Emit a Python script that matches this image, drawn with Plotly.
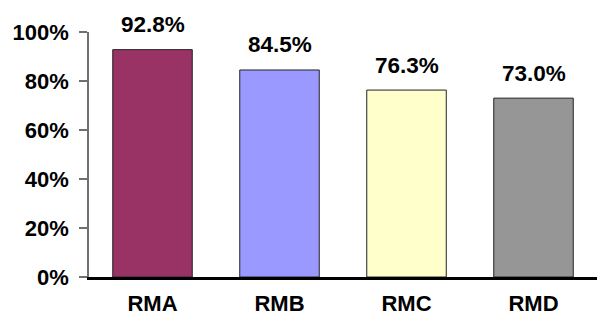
import plotly.graph_objects as go

categories = ["RMA", "RMB", "RMC", "RMD"]
values = [92.8, 84.5, 76.3, 73.0]
colors = ["#993366", "#9999FF", "#FFFFCC", "#969696"]
ytick_vals = [0, 20, 40, 60, 80, 100]
ytick_text = ["0%", "20%", "40%", "60%", "80%", "100%"]

FONT = "Liberation Sans, Arial, sans-serif"

fig = go.Figure()
fig.add_trace(go.Bar(
    x=categories, y=values,
    marker=dict(color=colors, line=dict(color="#222222", width=1)),
    hoverinfo="skip",
))

for c, v in zip(categories, values):
    fig.add_annotation(
        x=c, y=v, text=f"<b>{v:.1f}%</b>", showarrow=False,
        yanchor="middle", yshift=25,
        font=dict(family=FONT, size=22.5, color="#000000"),
    )

fig.update_layout(
    width=600, height=323,
    margin=dict(l=89, r=3, t=32, b=46),
    paper_bgcolor="white", plot_bgcolor="white",
    bargap=0.374,
    showlegend=False,
    font=dict(family=FONT, size=22, color="#000000"),
)
fig.update_xaxes(
    showline=True, linecolor="#000000", linewidth=2.5,
    ticks="", showgrid=False, zeroline=False,
    tickfont=dict(family=FONT, size=22, color="#000000", weight="bold"),
    ticklabelstandoff=5,
)
fig.update_yaxes(
    range=[0, 100], tickvals=ytick_vals, ticktext=ytick_text,
    showline=True, linecolor="#707070", linewidth=1.5,
    ticks="outside", ticklen=8, tickcolor="#707070", tickwidth=1.5,
    showgrid=False, zeroline=False,
    tickfont=dict(family=FONT, size=22, color="#000000", weight="bold"),
    ticklabelstandoff=6,
)

fig.write_html("out.html")
